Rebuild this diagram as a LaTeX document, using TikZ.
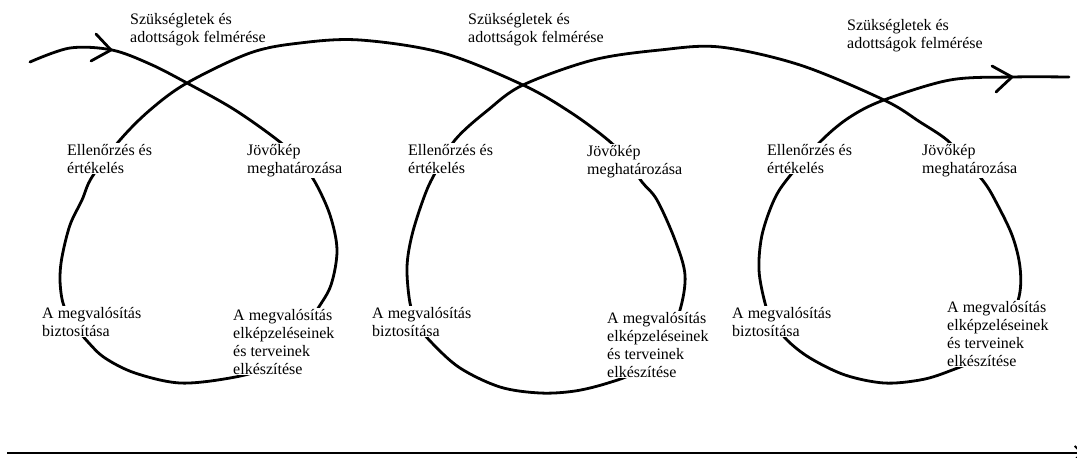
\documentclass[tikz,border=0pt]{standalone}
\usepackage{fontspec}
\setmainfont{Liberation Serif}
\usetikzlibrary{arrows.meta}
\begin{document}
\begin{tikzpicture}[x=1pt,y=-1pt,
  lbl/.style={anchor=north west,align=left,fill=white,inner sep=1pt,
    font=\fontsize{16}{18}\selectfont},
  curve/.style={line width=2.8pt,line cap=round,line join=round}]
\useasboundingbox (0,0) rectangle (1077,458);
% spiral
\draw[curve] plot[smooth,tension=0.55] coordinates {
 (30,62) (70,48) (112,50) (150,64) (187,83) (235,110) (280,142) (300,162)
 (315,182) (330,215) (337,250) (331,285) (317,310) (295,345) (265,368)
 (230,378) (180,383) (135,373) (105,358) (88,342) (72,322) (63,303)
 (60,280) (62,257) (70,225) (82,200) (92,177) (120,140) (150,110) (187,83)
 (250,53) (300,43) (360,40) (443,53) (523,85) (570,112) (608,140)
 (627,160) (642,182) (657,200) (675,240) (685,275) (680,310) (665,345)
 (635,372) (608,383) (575,391) (540,393) (500,387) (460,368) (432,343)
 (418,325) (410,303) (407,267) (412,235) (423,200) (433,177) (455,140)
 (488,110) (523,85) (593,60) (660,50) (720,47) (800,65) (884,100)
 (920,122) (947,140) (965,160) (984,182) (995,200) (1012,235) (1020,267)
 (1019,297) (1005,330) (980,357) (947,372) (920,380) (884,383) (845,375)
 (810,358) (787,340) (772,320) (765,303) (759,270) (762,235) (774,200)
 (789,177) (822,140) (850,117) (884,100) (950,80) (1012,77) (1069,77)};
% arrow marks on the spiral
\coordinate (t1) at (111,50);
\coordinate (a1) at (96,34);
\coordinate (b1) at (91,61);
\draw[curve] (a1) -- (t1) -- (b1);
\coordinate (t2) at (1012,77);
\coordinate (a2) at (992,66);
\coordinate (b2) at (996,92);
\draw[curve] (a2) -- (t2) -- (b2);
% time axis
\coordinate (s) at (7,453);
\coordinate (e) at (1083,453);
\draw[line width=2.8pt,-{Straight Barb[length=7pt,width=14pt,line width=1.8pt]}] (s) -- (e);
% labels loop 1
\node[lbl] (sz1) at (129,12) {Szükségletek és\\adottságok felmérése};
\node[lbl] (el1) at (66,143) {Ellenőrzés és\\értékelés};
\node[lbl] (jo1) at (246,143) {Jövőkép\\meghatározása};
\node[lbl] (ab1) at (41,306) {A megvalósítás\\biztosítása};
\node[lbl] (ae1) at (232,308) {A megvalósítás\\elképzeléseinek\\és terveinek\\elkészítése};
% labels loop 2
\node[lbl] (sz2) at (467,12) {Szükségletek és\\adottságok felmérése};
\node[lbl] (el2) at (407,143) {Ellenőrzés és\\értékelés};
\node[lbl] (jo2) at (586,144) {Jövőkép\\meghatározása};
\node[lbl] (ab2) at (371,306) {A megvalósítás\\biztosítása};
\node[lbl] (ae2) at (606,311) {A megvalósítás\\elképzeléseinek\\és terveinek\\elkészítése};
% labels loop 3
\node[lbl] (sz3) at (846,18) {Szükségletek és\\adottságok felmérése};
\node[lbl] (el3) at (766,143) {Ellenőrzés és\\értékelés};
\node[lbl] (jo3) at (921,143) {Jövőkép\\meghatározása};
\node[lbl] (ab3) at (731,306) {A megvalósítás\\biztosítása};
\node[lbl] (ae3) at (946,300) {A megvalósítás\\elképzeléseinek\\és terveinek\\elkészítése};
\end{tikzpicture}
\end{document}
